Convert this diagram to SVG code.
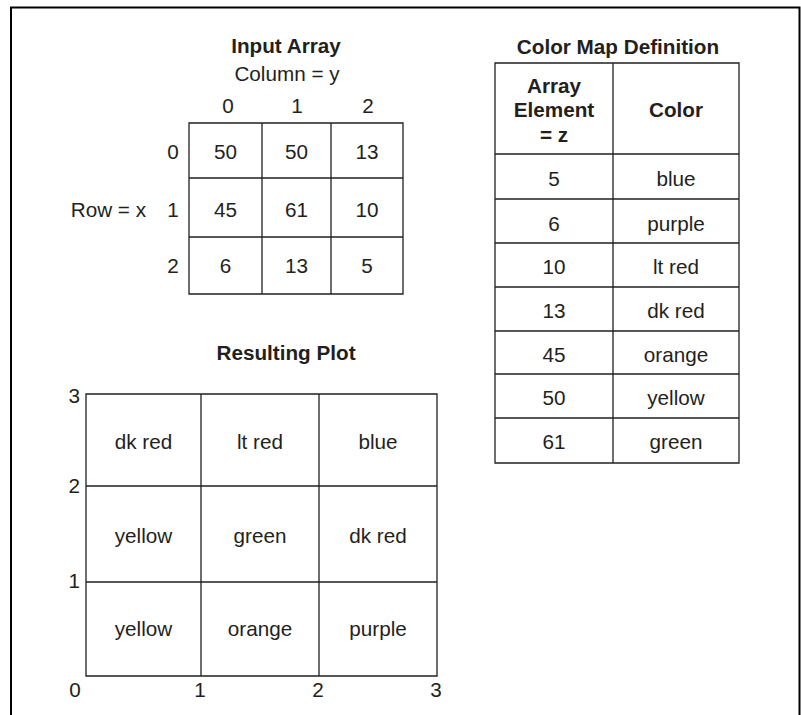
<svg xmlns="http://www.w3.org/2000/svg" width="801" height="715" viewBox="0 0 801 715">
  <style>
    text { font-family: "Liberation Sans", Arial, Helvetica, sans-serif; font-size: 20.7px; fill: #231f20; }
    .b { font-weight: bold; }
    .m { text-anchor: middle; }
    .e { text-anchor: end; }
    .g { fill: none; stroke: #231f20; stroke-width: 1.3; }
    .frame { fill: none; stroke: #000; stroke-width: 2; }
  </style>
  <rect width="801" height="715" fill="#fff"/>
  <path class="frame" d="M11,716 V7.5 H799.5 V716"/>

  <g id="input-array">
    <text class="b m" x="286" y="53">Input Array</text>
    <text class="m" x="287" y="81">Column = y</text>
    <text class="m" x="228" y="113">0</text>
    <text class="m" x="297" y="113">1</text>
    <text class="m" x="368" y="113">2</text>
    <text class="m" x="173" y="159">0</text>
    <text class="m" x="173" y="217">1</text>
    <text class="m" x="173" y="273">2</text>
    <text class="e" x="146" y="217">Row = x</text>
    <path class="g" d="M189,123 H403 V294 H189 Z M262,123 V294 M331,123 V294 M189,178 H403 M189,237 H403"/>
    <text class="m" x="225.5" y="159">50</text>
    <text class="m" x="296.5" y="159">50</text>
    <text class="m" x="367" y="159">13</text>
    <text class="m" x="225.5" y="217">45</text>
    <text class="m" x="296.5" y="217">61</text>
    <text class="m" x="367" y="217">10</text>
    <text class="m" x="225.5" y="273">6</text>
    <text class="m" x="296.5" y="273">13</text>
    <text class="m" x="367" y="273">5</text>
  </g>

  <g id="color-map">
    <text class="b m" x="618" y="54">Color Map Definition</text>
    <path class="g" d="M495,63 H739 V463 H495 Z M613,63 V463 M495,154 H739 M495,199 H739 M495,243 H739 M495,287 H739 M495,331 H739 M495,374 H739 M495,418 H739"/>
    <text class="b m" x="554" y="93">Array</text>
    <text class="b m" x="554" y="117">Element</text>
    <text class="b m" x="554" y="142">= z</text>
    <text class="b m" x="676" y="117">Color</text>
    <text class="m" x="554" y="186">5</text>
    <text class="m" x="676" y="186">blue</text>
    <text class="m" x="554" y="231">6</text>
    <text class="m" x="676" y="231">purple</text>
    <text class="m" x="554" y="274">10</text>
    <text class="m" x="676" y="274">lt red</text>
    <text class="m" x="554" y="318">13</text>
    <text class="m" x="676" y="318">dk red</text>
    <text class="m" x="554" y="362">45</text>
    <text class="m" x="676" y="362">orange</text>
    <text class="m" x="554" y="405">50</text>
    <text class="m" x="676" y="405">yellow</text>
    <text class="m" x="554" y="449">61</text>
    <text class="m" x="676" y="449">green</text>
  </g>

  <g id="resulting-plot">
    <text class="b m" x="286" y="360">Resulting Plot</text>
    <path class="g" d="M86,394 H437 V676 H86 Z M201,394 V676 M319,394 V676 M86,486 H437 M86,582 H437"/>
    <text class="e" x="80" y="403">3</text>
    <text class="e" x="80" y="493">2</text>
    <text class="e" x="80" y="588">1</text>
    <text class="m" x="75" y="697">0</text>
    <text class="m" x="200" y="697">1</text>
    <text class="m" x="318" y="697">2</text>
    <text class="m" x="436" y="697">3</text>
    <text class="m" x="143.5" y="449">dk red</text>
    <text class="m" x="260" y="449">lt red</text>
    <text class="m" x="378" y="449">blue</text>
    <text class="m" x="143.5" y="543">yellow</text>
    <text class="m" x="260" y="543">green</text>
    <text class="m" x="378" y="543">dk red</text>
    <text class="m" x="143.5" y="636">yellow</text>
    <text class="m" x="260" y="636">orange</text>
    <text class="m" x="378" y="636">purple</text>
  </g>
</svg>
